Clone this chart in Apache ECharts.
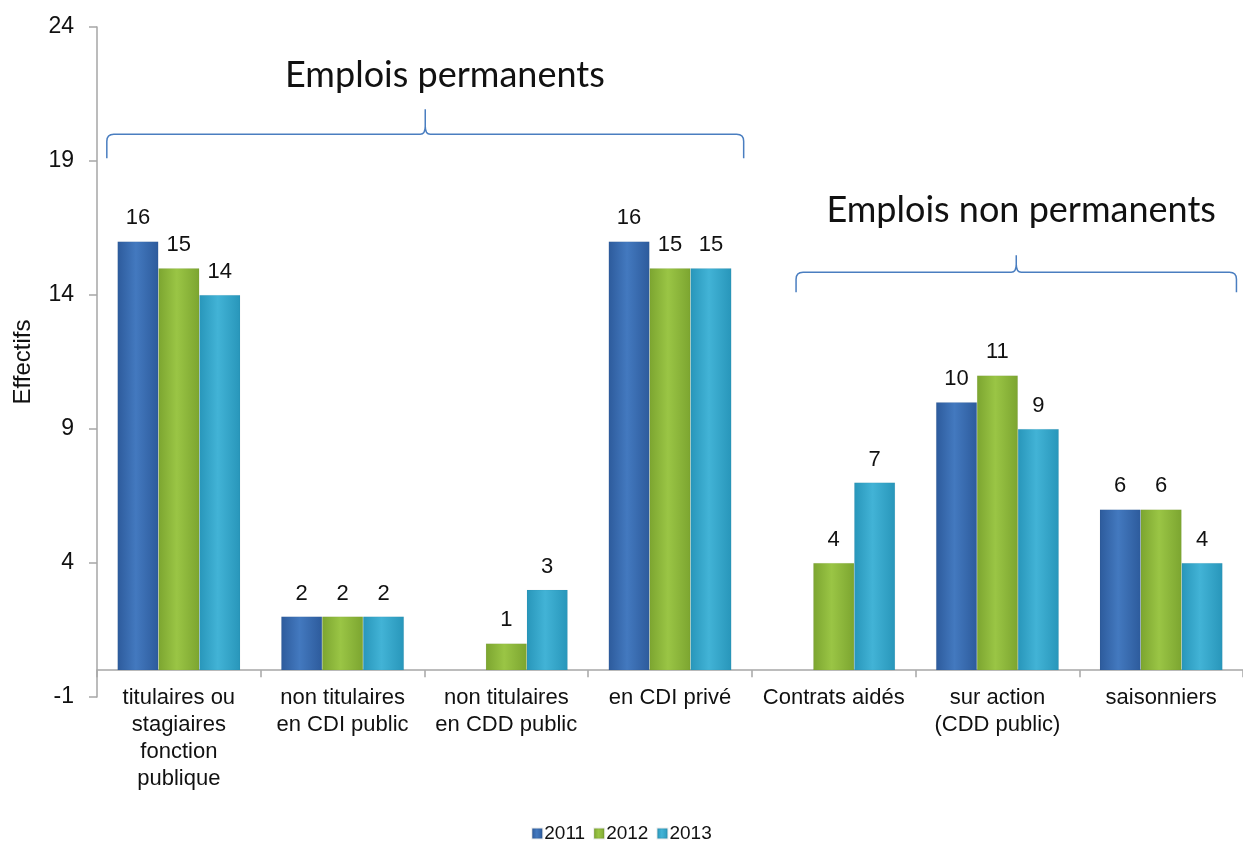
<!DOCTYPE html>
<html>
<head>
<meta charset="utf-8">
<script src="https://cdn.jsdelivr.net/npm/echarts@6/dist/echarts.min.js"></script>
<style>
html,body{margin:0;padding:0;background:#fff;}
#chart{width:1243px;height:844px;}
</style>
</head>
<body>
<div id="chart"></div>
<script>
// ---- data ----
const categories = [
  'titulaires ou\nstagiaires\nfonction\npublique',
  'non titulaires\nen CDI public',
  'non titulaires\nen CDD public',
  'en CDI privé',
  'Contrats aidés',
  'sur action\n(CDD public)',
  'saisonniers'
];
const seriesNames = ['2011', '2012', '2013'];
const values2011 = [16, 2, null, 16, null, 10, 6];
const values2012 = [15, 2, 1, 15, 4, 11, 6];
const values2013 = [14, 2, 3, 15, 7, 9, 4];
const yTicks = [-1, 4, 9, 14, 19, 24];

// group annotations (braces), anchored in data space (category index units / value units)
const groupNames = ['Emplois permanents', 'Emplois non permanents'];
const groupFrom = [-0.44, 3.77];
const groupTo = [3.45, 6.46];
const groupLevel = [20.0, 14.85];
const groupEndDepth = [0.9, 0.75];
const groupCuspHeight = [0.93, 0.63];
const groupTextLift = [2.2, 2.3];
const groupTextShift = [0.12, 0.03];

// ---- styles ----
function grad(edge, mid) {
  return new echarts.graphic.LinearGradient(0, 0, 1, 0, [
    {offset: 0, color: edge},
    {offset: 0.45, color: mid},
    {offset: 1, color: edge}
  ]);
}
const colors = [
  grad('#2D5B9C', '#4379BF'),
  grad('#7CA530', '#9AC545'),
  grad('#2896BA', '#42B3D6')
];

const chart = echarts.init(document.getElementById('chart'));

function barSeries(name, data, i) {
  return {
    name: name,
    type: 'bar',
    data: data,
    barGap: '0%',
    barCategoryGap: '25%',
    itemStyle: {color: colors[i], borderColor: 'rgba(0,0,0,0.08)', borderWidth: 0.5},
    label: {
      show: true,
      position: 'top',
      distance: 12,
      fontFamily: 'Liberation Sans',
      fontSize: 22,
      color: '#111'
    }
  };
}

const braceData = groupNames.map((n, i) => [groupFrom[i], groupTo[i], groupLevel[i], groupEndDepth[i], groupCuspHeight[i], groupTextLift[i], groupTextShift[i]]);

const option = {
  animation: false,
  grid: {left: 97, right: -8, top: 27, bottom: 147, containLabel: false},
  legend: {
    bottom: 1,
    left: 'center',
    padding: 0,
    itemWidth: 10,
    itemHeight: 10,
    itemGap: 8,
    icon: 'rect',
    textStyle: {fontFamily: 'Liberation Sans', fontSize: 19, color: '#111', padding: [0, 0, 0, -3]},
    data: seriesNames
  },
  xAxis: {
    type: 'category',
    data: categories,
    axisLine: {show: true, onZero: true, lineStyle: {color: '#a6a6a6', width: 1.5}},
    axisTick: {show: true, length: 7, lineStyle: {color: '#a6a6a6', width: 1.5}},
    axisLabel: {
      interval: 0,
      margin: -13,
      fontFamily: 'Liberation Sans',
      fontSize: 22,
      lineHeight: 27,
      color: '#111'
    }
  },
  yAxis: {
    type: 'value',
    min: -1,
    max: 24,
    interval: 5,
    name: 'Effectifs',
    nameLocation: 'middle',
    nameGap: 62,
    nameRotate: 90,
    nameTextStyle: {fontFamily: 'Liberation Sans', fontSize: 24, color: '#111'},
    axisLine: {show: true, lineStyle: {color: '#a6a6a6', width: 1.5}},
    axisTick: {show: true, length: 8, lineStyle: {color: '#a6a6a6', width: 1.5}},
    splitLine: {show: false},
    axisLabel: {
      margin: 23,
      fontFamily: 'Liberation Sans',
      fontSize: 23,
      color: '#111',
      formatter: v => (yTicks.indexOf(v) >= 0 ? String(v) : '')
    }
  },
  series: [
    barSeries(seriesNames[0], values2011, 0),
    barSeries(seriesNames[1], values2012, 1),
    barSeries(seriesNames[2], values2013, 2),
    {
      type: 'custom',
      name: 'braces',
      silent: true,
      data: braceData,
      encode: {x: 0, y: 2},
      clip: false,
      z: 5,
      renderItem: function (params, api) {
        const from = api.value(0), to = api.value(1), lvl = api.value(2);
        const endD = api.value(3), cusp = api.value(4), lift = api.value(5), shift = api.value(6);
        const name = groupNames[params.dataIndex];
        const c0 = api.coord([0, lvl]);
        const c1 = api.coord([1, lvl]);
        const band = c1[0] - c0[0];
        const px = v => c0[0] + v * band;
        const mid = (from + to) / 2;
        const xL = px(from), xR = px(to), xM = px(mid);
        const y = c0[1];
        const yEnd = api.coord([0, lvl - endD])[1];
        const yCusp = api.coord([0, lvl + cusp])[1];
        const yTxt = api.coord([0, lvl + lift])[1];
        const r = 7;
        const path =
          'M' + xL + ' ' + yEnd +
          ' L' + xL + ' ' + (y + r) +
          ' Q' + xL + ' ' + y + ' ' + (xL + r) + ' ' + y +
          ' L' + (xM - 5) + ' ' + y +
          ' Q' + xM + ' ' + y + ' ' + xM + ' ' + (y - 8) +
          ' L' + xM + ' ' + yCusp +
          ' M' + xM + ' ' + (y - 8) +
          ' Q' + xM + ' ' + y + ' ' + (xM + 5) + ' ' + y +
          ' L' + (xR - r) + ' ' + y +
          ' Q' + xR + ' ' + y + ' ' + xR + ' ' + (y + r) +
          ' L' + xR + ' ' + yEnd;
        return {
          type: 'group',
          children: [
            {
              type: 'path',
              shape: {pathData: path},
              style: {fill: null, stroke: '#4A7EC0', lineWidth: 1.5}
            },
            {
              type: 'text',
              style: {
                text: name,
                x: px(mid + shift),
                y: yTxt,
                align: 'center',
                verticalAlign: 'middle',
                fontFamily: 'Lato',
                fontSize: 36,
                fill: '#111'
              }
            }
          ]
        };
      }
    }
  ]
};
chart.setOption(option);
</script>
</body>
</html>
